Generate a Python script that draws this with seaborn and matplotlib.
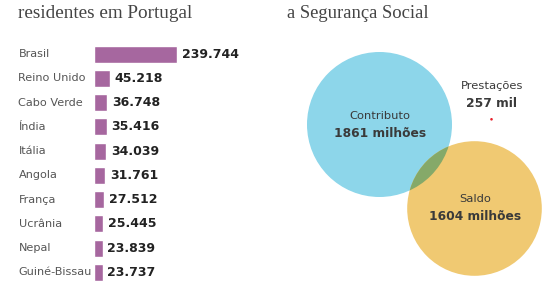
import matplotlib
matplotlib.use("Agg")
import matplotlib.pyplot as plt
import seaborn as sns
import numpy as np
from matplotlib.patches import Circle
from matplotlib.transforms import blended_transform_factory

# ---- data ----
countries = ["Brasil", "Reino Unido", "Cabo Verde", "Índia", "Itália",
             "Angola", "França", "Ucrânia", "Nepal", "Guiné-Bissau"]
residents = [239744, 45218, 36748, 35416, 34039, 31761, 27512, 25445, 23839, 23737]

venn_labels = ["Contributo", "Saldo", "Prestações"]
venn_values = [1861, 1604, 0.257]          # milhões de euros
venn_texts = ["1861 milhões", "1604 milhões", "257 mil"]

title_left = "residentes em Portugal"
title_right = "a Segurança Social"

# ---- style ----
sns.set_theme(style="white")
plt.rcParams["font.family"] = ["DejaVu Sans"]

W, H = 560, 293
fig = plt.figure(figsize=(W / 100, H / 100), dpi=100)

def px(v):
    return v * 72 / 100

# ---- bar chart ----
top_px, bot_px = 42.1, 284.6
ax = fig.add_axes([94.3 / W, (H - bot_px) / H, 180 / W, (bot_px - top_px) / H])
sns.barplot(x=residents, y=countries, orient="h", color="#a6679f",
            saturation=1, width=0.70, ax=ax)
ax.set_xlim(0, residents[0] * 180 / 83)
ax.set_ylim(len(countries) - 0.5, -0.5)
ax.axis("off")
ax.bar_label(ax.containers[0],
             labels=[f"{v:,}".replace(",", ".") for v in residents],
             padding=3.4, fontsize=px(12.5), fontweight="bold", color="#222222")
tr = blended_transform_factory(fig.transFigure, ax.transData)
for i, c in enumerate(countries):
    ax.text(18.5 / W, i, c, transform=tr, ha="left", va="center",
            fontsize=px(11.3), color="#555555")

# ---- titles ----
fig.text(18 / W, 1 - 18 / H, title_left, family="Liberation Serif",
         fontsize=px(19.1), color="#444444", ha="left", va="baseline")
fig.text(286.7 / W, 1 - 18 / H, title_right, family="Liberation Serif",
         fontsize=px(18.6), color="#444444", ha="left", va="baseline")

# ---- circles ----
ax2 = fig.add_axes([0, 0, 1, 1], facecolor="none")
ax2.set_xlim(0, W)
ax2.set_ylim(H, 0)
ax2.axis("off")

k = 72.5 / np.sqrt(venn_values[0])
radii = [k * np.sqrt(v) for v in venn_values]
centers = [(379.5, 124.5), (474.5, 208.5), (491.5, 119.3)]

blue = np.array([141, 214, 234]) / 255
yellow = np.array([240, 201, 114]) / 255
green = blue * yellow

c_blue = Circle(centers[0], radii[0], facecolor=blue, edgecolor="none", zorder=1)
c_yel = Circle(centers[1], radii[1], facecolor=yellow, edgecolor="none", zorder=1)
ax2.add_patch(c_blue)
ax2.add_patch(c_yel)
c_ov = Circle(centers[1], radii[1], facecolor=green, edgecolor="none", zorder=2)
ax2.add_patch(c_ov)
c_ov.set_clip_path(c_blue)
ax2.add_patch(Circle(centers[2], max(radii[2], 1.3), facecolor="#e8202a",
                     edgecolor="none", zorder=3))

label_pos = [((380, 116), (380, 133.3)),
             ((474.7, 199.3), (474.7, 216.7)),
             ((491.7, 86), (491.7, 103.3))]
for (lp, vp), lab, txt in zip(label_pos, venn_labels, venn_texts):
    ax2.text(*lp, lab, ha="center", va="center", fontsize=px(11.5),
             color="#3a3a3a", zorder=4)
    ax2.text(*vp, txt, ha="center", va="center", fontsize=px(12.2),
             fontweight="bold", color="#3a3a3a", zorder=4)

fig.savefig("out.png", dpi=100, facecolor="white")
